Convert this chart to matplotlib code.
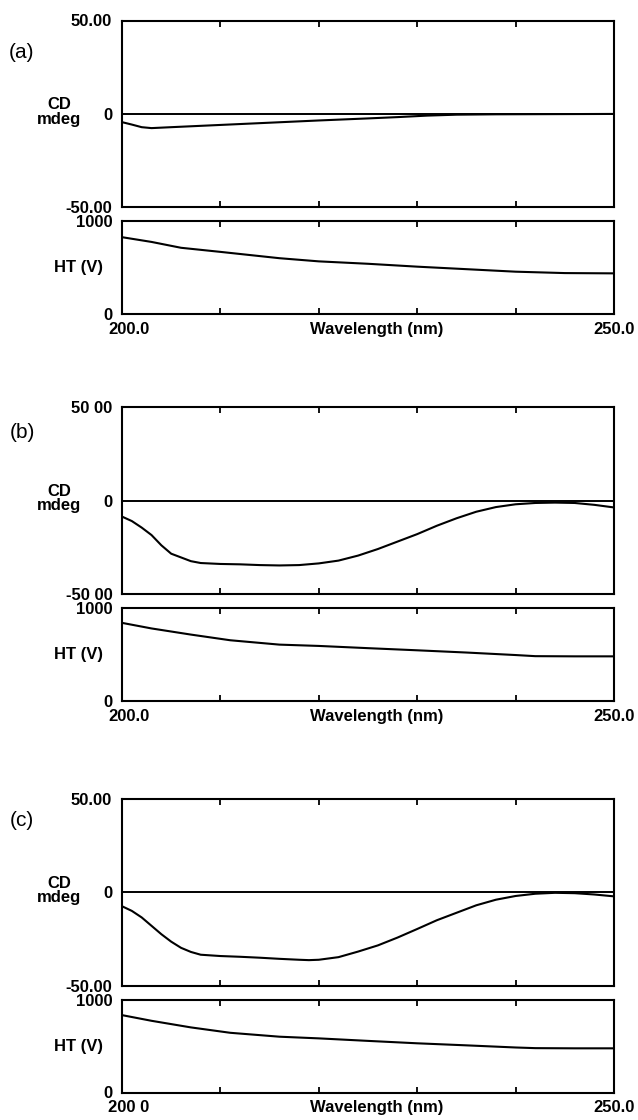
import matplotlib.pyplot as plt

plt.rcParams["font.family"] = ["Liberation Sans", "DejaVu Sans"]

# --- data ---
wl_a = [200, 201, 202, 203, 205, 210, 215, 220, 225, 228, 231, 234, 238, 244, 250]
cd_a = [-4.5, -5.8, -7.2, -7.7, -7.2, -6.0, -4.8, -3.6, -2.5, -1.8, -1.0, -0.5, -0.3, -0.2, -0.1]

wl_b = [200, 201, 202, 203, 204, 205, 206, 207, 208, 210, 212, 214, 216, 218, 220,
        222, 224, 226, 228, 230, 232, 234, 236, 238, 240, 242, 244, 246, 248, 250]
cd_b = [-8.6, -11.0, -14.5, -18.5, -24.0, -28.5, -30.5, -32.5, -33.5, -34.0, -34.2, -34.6, -34.8, -34.6, -33.7,
        -32.2, -29.5, -26.0, -22.0, -18.0, -13.5, -9.5, -6.0, -3.5, -2.0, -1.3, -1.1, -1.3, -2.3, -3.7]

wl_c = [200, 201, 202, 203, 204, 205, 206, 207, 208, 210, 212, 214, 216, 218, 219, 220,
        222, 224, 226, 228, 230, 232, 234, 236, 238, 240, 242, 244, 246, 248, 250]
cd_c = [-7.5, -10.0, -13.5, -18.0, -22.5, -26.5, -29.8, -32.0, -33.5, -34.2, -34.6, -35.1, -35.7, -36.2, -36.4, -36.2,
        -34.8, -31.8, -28.5, -24.3, -19.7, -15.0, -11.0, -7.0, -4.0, -2.0, -0.8, -0.3, -0.5, -1.2, -2.2]

# HT voltage traces
ht_wl_a = [200, 203, 206, 210, 213, 216, 220, 225, 230, 235, 240, 245, 250]
ht_a = [826, 775, 712, 668, 634, 600, 566, 540, 509, 482, 455, 440, 437]
ht_wl_b = [200, 203, 207, 211, 216, 220, 225, 230, 235, 240, 242, 246, 250]
ht_b = [838, 778, 712, 651, 604, 590, 566, 543, 519, 492, 480, 478, 478]
ht_wl_c = [200, 203, 207, 211, 216, 220, 225, 230, 235, 240, 242, 246, 250]
ht_c = [832, 771, 700, 642, 600, 582, 555, 529, 507, 484, 477, 475, 475]

# baseline (solvent) trace
baseline_wl = [200, 250]
baseline_cd = [0.0, 0.0]

panel_names = ["(a)", "(b)", "(c)"]
cd_ticks = [50, 0, -50]
cd_ticklabels = [["50.00", "0", "-50.00"], ["50 00", "0", "-50 00"], ["50.00", "0", "-50.00"]]
ht_ticks = [1000, 0]
ht_ticklabels = ["1000", "0"]
x_minor = [210, 220, 230, 240]
x_start_labels = ["200.0", "200.0", "200 0"]
x_end_label = "250.0"

cd_data = [(wl_a, cd_a), (wl_b, cd_b), (wl_c, cd_c)]
ht_data = [(ht_wl_a, ht_a), (ht_wl_b, ht_b), (ht_wl_c, ht_c)]

# --- layout in pixels ---
W, H = 638, 1120
fig = plt.figure(figsize=(W / 100, H / 100), dpi=100)


def px_axes(x0, y0, x1, y1):
    return fig.add_axes([x0 / W, 1 - y1 / H, (x1 - x0) / W, (y1 - y0) / H])


tops = [20.5, 407.3, 799]
letter_off = [32, 25, 22]
L, R = 122, 614
bold = dict(fontsize=12, fontweight="bold")

for i in range(3):
    top = tops[i]
    ax_cd = px_axes(L, top, R, top + 186.5)
    ax_ht = px_axes(L, top + 200.5, R, top + 293.5)

    ax_cd.plot(baseline_wl, baseline_cd, color="black", lw=1.4)
    ax_cd.plot(cd_data[i][0], cd_data[i][1], color="black", lw=1.5)
    ax_cd.set_ylim(-50, 50)
    ax_cd.set_yticks(cd_ticks)
    ax_cd.set_yticklabels(cd_ticklabels[i], **bold)
    ax_cd.text(-0.128, 0.51, "CD\nmdeg", transform=ax_cd.transAxes,
               ha="center", va="center", linespacing=0.95, **bold)

    ax_ht.plot(ht_data[i][0], ht_data[i][1], color="black", lw=1.5)
    ax_ht.set_ylim(0, 1000)
    ax_ht.set_yticks(ht_ticks)
    ax_ht.set_yticklabels(ht_ticklabels, **bold)
    ax_ht.text(-0.0894, 0.5, "HT (V)", transform=ax_ht.transAxes,
               ha="center", va="center", **bold)

    for ax in (ax_cd, ax_ht):
        ax.set_xlim(200, 250)
        ax.set_xticks(x_minor)
        ax.tick_params(axis="x", direction="in", top=True, bottom=True,
                       length=4, width=1.3, labelbottom=False)
        ax.tick_params(axis="y", length=0, pad=7)
        for s in ax.spines.values():
            s.set_linewidth(1.5)

    ax_ht.annotate(x_start_labels[i], xy=(200, 0), xycoords=("data", "axes fraction"),
                   xytext=(5, -11), textcoords="offset points",
                   ha="center", va="center", **bold)
    ax_ht.annotate("Wavelength (nm)", xy=(0.518, 0), xycoords="axes fraction",
                   xytext=(0, -11), textcoords="offset points",
                   ha="center", va="center", **bold)
    ax_ht.annotate(x_end_label, xy=(250, 0), xycoords=("data", "axes fraction"),
                   xytext=(0, -11), textcoords="offset points",
                   ha="center", va="center", **bold)

    fig.text(22 / W, 1 - (top + letter_off[i]) / H, panel_names[i],
             fontsize=15, ha="center", va="center")

fig.savefig("out.png", dpi=100)
